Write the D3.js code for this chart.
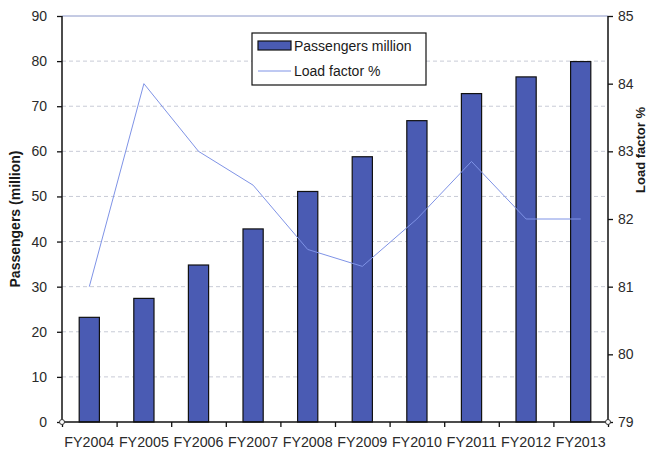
<!DOCTYPE html>
<html>
<head>
<meta charset="utf-8">
<script src="https://cdn.jsdelivr.net/npm/d3@7"></script>
<style>
  body { margin: 0; background: #fff; }
  text { font-family: "Liberation Sans", Arial, sans-serif; }
</style>
</head>
<body>
<svg id="svg" width="653" height="457"></svg>
<script>
const years = ["FY2004", "FY2005", "FY2006", "FY2007", "FY2008", "FY2009", "FY2010", "FY2011", "FY2012", "FY2013"];
const passengers = [23.2, 27.4, 34.8, 42.8, 51.1, 58.8, 66.8, 72.8, 76.5, 79.9];
const loadFactor = [81.0, 84.0, 83.0, 82.5, 81.55, 81.3, 82.0, 82.85, 82.0, 82.0];
const leftTicks = [0, 10, 20, 30, 40, 50, 60, 70, 80, 90];
const rightTicks = [79, 80, 81, 82, 83, 84, 85];

const svg = d3.select("#svg");
const m = { left: 62, right: 608, top: 16, bottom: 422 };

const x = d3.scaleBand().domain(years).range([m.left, m.right]).paddingInner(0.63).paddingOuter(0.315);
const y = d3.scaleLinear().domain([0, 90]).range([m.bottom, m.top]);
const y2 = d3.scaleLinear().domain([79, 85]).range([m.bottom, m.top]);

// gridlines
svg.append("g")
  .selectAll("line")
  .data(leftTicks.slice(1))
  .enter().append("line")
  .attr("x1", m.left).attr("x2", m.right)
  .attr("y1", d => y(d)).attr("y2", d => y(d))
  .attr("stroke", d => d === 90 ? "#8a96c8" : "#c8cbd6")
  .attr("stroke-width", 1)
  .attr("stroke-dasharray", d => d === 90 ? null : "4,3");

// bars
svg.append("g")
  .selectAll("rect")
  .data(years)
  .enter().append("rect")
  .attr("x", d => x(d))
  .attr("width", x.bandwidth())
  .attr("y", (d, i) => y(passengers[i]))
  .attr("height", (d, i) => m.bottom - y(passengers[i]))
  .attr("fill", "#4a5bb3")
  .attr("stroke", "#111")
  .attr("stroke-width", 1.2);

// load factor line
const line = d3.line()
  .x((d, i) => x(years[i]) + x.bandwidth() / 2)
  .y(d => y2(d));

svg.append("path")
  .datum(loadFactor)
  .attr("d", line)
  .attr("fill", "none")
  .attr("stroke", "#7f93e6")
  .attr("stroke-width", 1);

// axes
const leftAxis = svg.append("g")
  .attr("transform", `translate(${m.left},0)`)
  .call(d3.axisLeft(y).tickValues(leftTicks).tickSize(5).tickPadding(10));

const rightAxis = svg.append("g")
  .attr("transform", `translate(${m.right},0)`)
  .call(d3.axisRight(y2).tickValues(rightTicks).tickFormat(d3.format("d")).tickSize(5).tickPadding(5));

const xBoundaries = d3.scaleLinear().domain([0, years.length]).range([m.left, m.right]);
const bottomAxis = svg.append("g")
  .attr("transform", `translate(0,${m.bottom})`)
  .call(d3.axisBottom(xBoundaries).tickValues(d3.range(0, years.length + 1)).tickSize(5).tickFormat(""));

[leftAxis, rightAxis, bottomAxis].forEach(g => {
  g.select(".domain").attr("stroke", "#111").attr("stroke-width", 1.5);
  g.selectAll(".tick line").attr("stroke", "#111").attr("stroke-width", 1.3);
  g.selectAll("text").attr("font-size", 14).attr("fill", "#2a2a2a")
    .attr("font-family", "'Liberation Sans', Arial, sans-serif");
});
leftAxis.select(".domain").attr("d", `M0,${m.top}V${m.bottom}`);
rightAxis.select(".domain").attr("d", `M0,${m.top}V${m.bottom}`);
bottomAxis.select(".domain").attr("d", `M${m.left},0H${m.right}`);

// category labels
svg.append("g")
  .selectAll("text")
  .data(years)
  .enter().append("text")
  .attr("x", d => x(d) + x.bandwidth() / 2)
  .attr("y", 447)
  .attr("text-anchor", "middle")
  .attr("font-size", 14)
  .attr("fill", "#2a2a2a")
  .attr("textLength", 50)
  .attr("lengthAdjust", "spacingAndGlyphs")
  .text(d => d);

// small axis end markers
[m.left, m.right].forEach(cx => {
  svg.append("circle").attr("cx", cx).attr("cy", m.bottom).attr("r", 2.5)
    .attr("fill", "#fff").attr("stroke", "#333").attr("stroke-width", 1);
});

// axis titles
svg.append("text")
  .attr("transform", `translate(20,${(m.top + m.bottom) / 2}) rotate(-90)`)
  .attr("text-anchor", "middle")
  .attr("font-size", 14)
  .attr("font-weight", "bold")
  .attr("fill", "#1a1a1a")
  .text("Passengers (million)");

svg.append("text")
  .attr("transform", "translate(645,150) rotate(-90)")
  .attr("text-anchor", "middle")
  .attr("font-size", 13)
  .attr("font-weight", "bold")
  .attr("fill", "#1a1a1a")
  .text("Load factor %");

// legend
const legend = svg.append("g").attr("transform", "translate(252,33)");
legend.append("rect")
  .attr("width", 174).attr("height", 52)
  .attr("fill", "#fff").attr("stroke", "#111").attr("stroke-width", 1.2);
legend.append("rect")
  .attr("x", 6).attr("y", 8).attr("width", 33).attr("height", 9)
  .attr("fill", "#4a5bb3").attr("stroke", "#111").attr("stroke-width", 1.2);
legend.append("text")
  .attr("x", 42).attr("y", 18).attr("font-size", 14).attr("fill", "#1a1a1a")
  .text("Passengers million");
legend.append("line")
  .attr("x1", 6).attr("x2", 39).attr("y1", 38).attr("y2", 38)
  .attr("stroke", "#7f93e6").attr("stroke-width", 1);
legend.append("text")
  .attr("x", 42).attr("y", 43).attr("font-size", 14).attr("fill", "#1a1a1a")
  .text("Load factor %");
</script>
</body>
</html>
